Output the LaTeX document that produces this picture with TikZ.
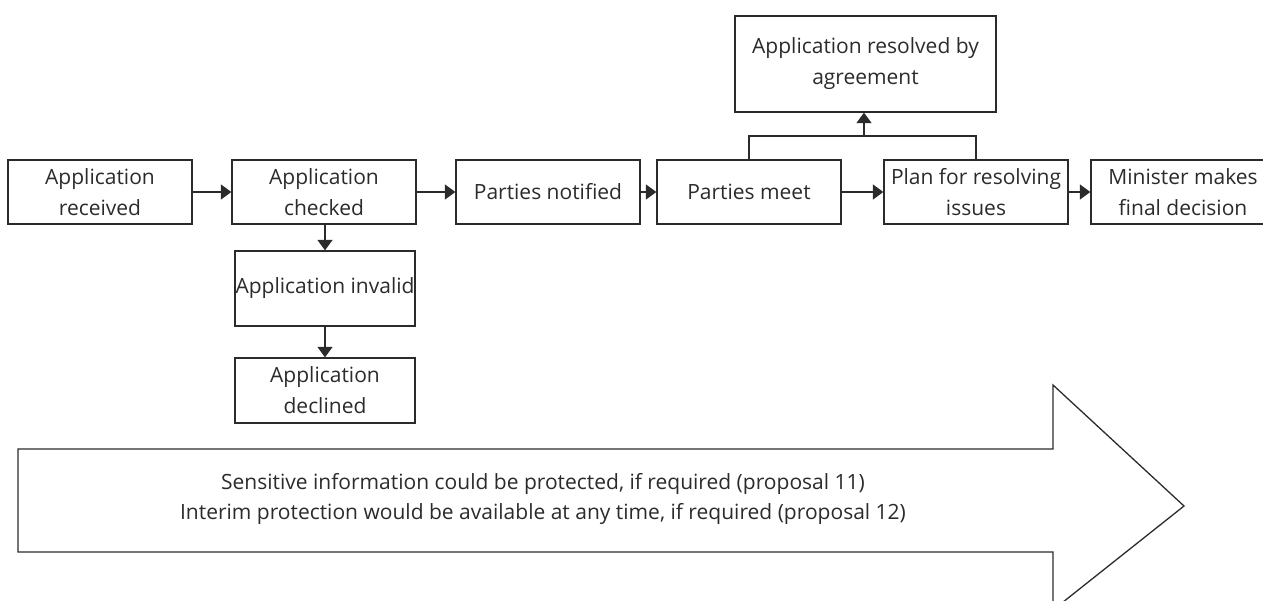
\documentclass[tikz,border=0pt]{standalone}
\usepackage{fontspec}
\setmainfont{Open Sans}
\usetikzlibrary{arrows.meta}
\definecolor{ink}{HTML}{2B2B2B}
\tikzset{
  box/.style={draw=ink, line width=1.3pt, rectangle, inner sep=0pt, align=center,
    text=ink, font=\fontsize{21}{31}\selectfont},
  arr/.style={draw=ink, line width=1.3pt, -{Triangle[length=10.5pt,width=15pt]}},
  ln/.style={draw=ink, line width=1.3pt},
}
\begin{document}
\begin{tikzpicture}[x=1pt,y=-1pt]
\useasboundingbox (0,0) rectangle (1263,600);
\clip (0,0) rectangle (1263,600);
% big arrow
\draw[ln] (18,449) -- (1053,449) -- (1053,385) -- (1184,506) -- (1053,610) -- (1053,552) -- (18,552) -- cycle;
\node[align=center, text=ink, font=\fontsize{21}{30.5}\selectfont] (bigtxt) at (543,499)
  {Sensitive information could be protected, if required (proposal 11)\\
   Interim protection would be available at any time, if required (proposal 12)};
% boxes
\node[box, minimum width=184pt, minimum height=64pt] (rec) at (100,192) {Application\\received};
\node[box, minimum width=184pt, minimum height=64pt] (chk) at (324,192) {Application\\checked};
\node[box, minimum width=184pt, minimum height=64pt] (not) at (548,192) {Parties notified};
\node[box, minimum width=184pt, minimum height=64pt] (meet) at (749,192) {Parties meet};
\node[box, minimum width=184pt, minimum height=64pt] (plan) at (976,192) {Plan for resolving\\issues};
\node[box, minimum width=184pt, minimum height=64pt] (min) at (1183,192) {Minister makes\\final decision};
\node[box, minimum width=180pt, minimum height=75pt] (inv) at (325,288.5) {Application invalid};
\node[box, minimum width=180pt, minimum height=65pt] (dec) at (325,390.5) {Application\\declined};
\node[box, minimum width=261pt, minimum height=96pt] (res) at (865.5,64) {Application resolved by\\agreement};
% connectors
\draw[arr] (rec.east) -- (chk.west);
\draw[arr] (chk.east) -- (not.west);
\draw[arr] (not.east) -- (meet.west);
\draw[arr] (meet.east) -- (plan.west);
\draw[arr] (plan.east) -- (min.west);
\draw[arr] (inv.north |- chk.south) -- (inv.north);
\draw[arr] (inv.south) -- (dec.north);
\coordinate (j) at (864,136);
\draw[ln] (meet.north) -- (meet.north |- j) -- (plan.north |- j) -- (plan.north);
\draw[arr] (j) -- (j |- res.south);
\end{tikzpicture}
\end{document}
